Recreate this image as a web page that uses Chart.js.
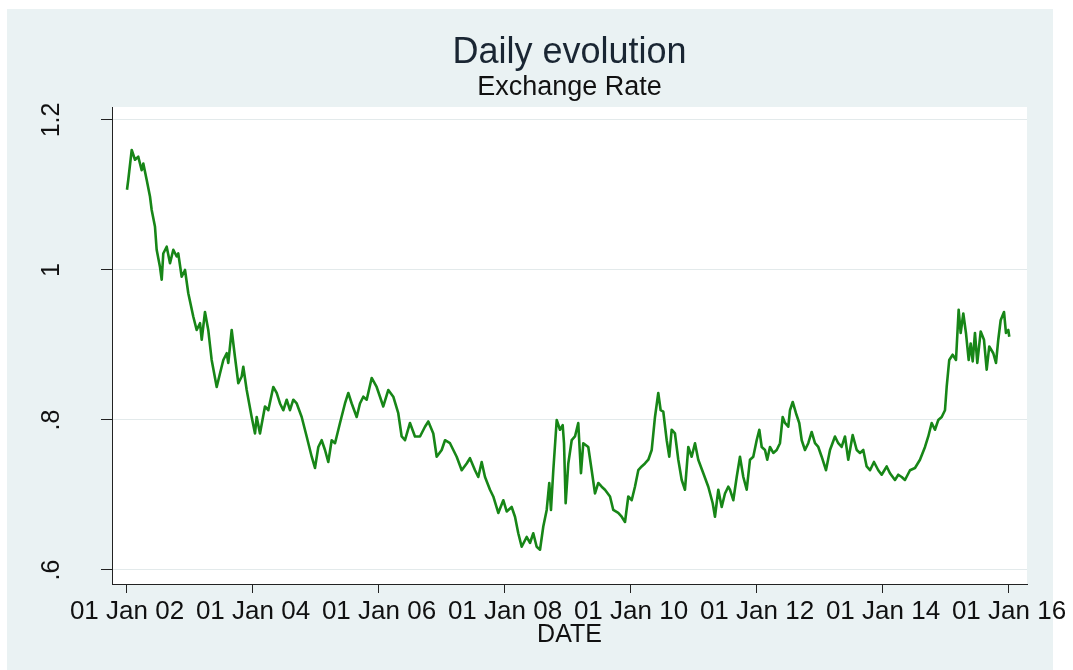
<!DOCTYPE html>
<html>
<head>
<meta charset="utf-8">
<title>Daily evolution</title>
<script src="https://cdn.jsdelivr.net/npm/chart.js@4.4.1/dist/chart.umd.min.js"></script>
<style>
  html, body { margin: 0; padding: 0; background: #ffffff; }
  canvas { display: block; }
</style>
</head>
<body>
<canvas id="myChart" width="1073" height="670"></canvas>
<script>
const obsTime = [
  2002.00, 2002.02, 2002.075, 2002.127, 2002.179, 2002.233, 2002.259, 2002.313, 2002.365, 2002.392,
  2002.444, 2002.471, 2002.524, 2002.551, 2002.576, 2002.630, 2002.683, 2002.735, 2002.789, 2002.814,
  2002.868, 2002.921, 2002.973, 2003.052, 2003.106, 2003.159, 2003.186, 2003.238, 2003.290, 2003.344,
  2003.424, 2003.476, 2003.529, 2003.583, 2003.608, 2003.662, 2003.714, 2003.767, 2003.821, 2003.846,
  2003.900, 2003.979, 2004.032, 2004.059, 2004.111, 2004.190, 2004.243, 2004.322, 2004.376, 2004.429,
  2004.481, 2004.535, 2004.587, 2004.640, 2004.694, 2004.773, 2004.852, 2004.932, 2004.984, 2005.037,
  2005.090, 2005.143, 2005.195, 2005.249, 2005.302, 2005.381, 2005.460, 2005.513, 2005.567, 2005.646,
  2005.698, 2005.751, 2005.805, 2005.884, 2005.963, 2006.016, 2006.068, 2006.148, 2006.227, 2006.306,
  2006.360, 2006.413, 2006.492, 2006.571, 2006.651, 2006.730, 2006.783, 2006.862, 2006.916, 2006.995,
  2007.048, 2007.127, 2007.233, 2007.313, 2007.392, 2007.444, 2007.524, 2007.576, 2007.630, 2007.683,
  2007.762, 2007.814, 2007.894, 2007.973, 2008.027, 2008.106, 2008.159, 2008.211, 2008.265, 2008.344,
  2008.397, 2008.449, 2008.503, 2008.556, 2008.608, 2008.662, 2008.703, 2008.730, 2008.767, 2008.821,
  2008.873, 2008.916, 2008.937, 2008.963, 2009.005, 2009.059, 2009.111, 2009.163, 2009.206, 2009.243,
  2009.322, 2009.376, 2009.429, 2009.481, 2009.535, 2009.587, 2009.667, 2009.719, 2009.798, 2009.852,
  2009.905, 2009.957, 2010.011, 2010.063, 2010.116, 2010.170, 2010.222, 2010.275, 2010.329, 2010.381,
  2010.433, 2010.471, 2010.513, 2010.567, 2010.608, 2010.646, 2010.698, 2010.751, 2010.805, 2010.857,
  2010.910, 2010.963, 2011.016, 2011.068, 2011.148, 2011.227, 2011.297, 2011.333, 2011.386, 2011.440,
  2011.492, 2011.544, 2011.571, 2011.624, 2011.678, 2011.730, 2011.783, 2011.837, 2011.889, 2011.941,
  2011.995, 2012.037, 2012.075, 2012.127, 2012.163, 2012.206, 2012.259, 2012.313, 2012.365, 2012.408,
  2012.444, 2012.497, 2012.524, 2012.567, 2012.619, 2012.671, 2012.710, 2012.762, 2012.814, 2012.868,
  2012.921, 2012.973, 2013.027, 2013.095, 2013.159, 2013.238, 2013.290, 2013.344, 2013.397, 2013.449,
  2013.519, 2013.583, 2013.635, 2013.687, 2013.741, 2013.794, 2013.857, 2013.925, 2013.979, 2014.059,
  2014.111, 2014.190, 2014.243, 2014.297, 2014.349, 2014.429, 2014.508, 2014.587, 2014.667, 2014.719,
  2014.773, 2014.825, 2014.878, 2014.932, 2014.984, 2015.011, 2015.052, 2015.106, 2015.159, 2015.201,
  2015.233, 2015.275, 2015.317, 2015.360, 2015.392, 2015.424, 2015.460, 2015.497, 2015.551, 2015.603,
  2015.646, 2015.687, 2015.751, 2015.794, 2015.830, 2015.868, 2015.921, 2015.952, 2015.989, 2016.005
];

// exchange rate at each observation
const rate = [
  1.107, 1.120, 1.160, 1.147, 1.151, 1.133, 1.142, 1.120, 1.098, 1.080,
  1.058, 1.027, 1.004, 0.987, 1.022, 1.031, 1.009, 1.027, 1.018, 1.022,
  0.991, 1.000, 0.969, 0.938, 0.920, 0.929, 0.907, 0.944, 0.920, 0.880,
  0.844, 0.862, 0.880, 0.889, 0.876, 0.920, 0.884, 0.849, 0.858, 0.871,
  0.840, 0.804, 0.782, 0.804, 0.782, 0.818, 0.813, 0.844, 0.836, 0.822,
  0.813, 0.827, 0.813, 0.827, 0.822, 0.804, 0.778, 0.751, 0.736, 0.764,
  0.773, 0.760, 0.744, 0.773, 0.769, 0.796, 0.822, 0.836, 0.822, 0.804,
  0.822, 0.831, 0.827, 0.856, 0.844, 0.831, 0.818, 0.840, 0.831, 0.809,
  0.778, 0.773, 0.796, 0.778, 0.778, 0.791, 0.798, 0.782, 0.751, 0.760,
  0.773, 0.769, 0.751, 0.733, 0.742, 0.749, 0.733, 0.724, 0.744, 0.724,
  0.707, 0.698, 0.676, 0.693, 0.678, 0.684, 0.671, 0.649, 0.631, 0.644,
  0.636, 0.649, 0.631, 0.627, 0.658, 0.680, 0.716, 0.680, 0.733, 0.800,
  0.787, 0.793, 0.769, 0.689, 0.742, 0.773, 0.778, 0.796, 0.729, 0.769,
  0.764, 0.733, 0.702, 0.716, 0.711, 0.707, 0.698, 0.680, 0.676, 0.671,
  0.664, 0.698, 0.693, 0.711, 0.733, 0.738, 0.742, 0.747, 0.760, 0.804,
  0.836, 0.813, 0.811, 0.773, 0.751, 0.787, 0.782, 0.747, 0.720, 0.707,
  0.764, 0.751, 0.769, 0.747, 0.729, 0.711, 0.689, 0.671, 0.707, 0.684,
  0.702, 0.711, 0.707, 0.693, 0.724, 0.751, 0.724, 0.707, 0.747, 0.751,
  0.773, 0.787, 0.764, 0.760, 0.747, 0.764, 0.756, 0.760, 0.769, 0.804,
  0.796, 0.791, 0.813, 0.824, 0.809, 0.796, 0.773, 0.760, 0.769, 0.784,
  0.769, 0.764, 0.751, 0.733, 0.760, 0.778, 0.769, 0.764, 0.778, 0.747,
  0.780, 0.760, 0.756, 0.760, 0.738, 0.733, 0.744, 0.733, 0.727, 0.738,
  0.729, 0.720, 0.727, 0.724, 0.720, 0.733, 0.736, 0.747, 0.764, 0.778,
  0.796, 0.787, 0.800, 0.804, 0.813, 0.844, 0.880, 0.887, 0.880, 0.947,
  0.916, 0.942, 0.916, 0.880, 0.902, 0.878, 0.916, 0.876, 0.918, 0.907,
  0.867, 0.898, 0.889, 0.876, 0.907, 0.933, 0.944, 0.916, 0.920, 0.911
];

// axis ticks
const xTickYears = [2002, 2004, 2006, 2008, 2010, 2012, 2014, 2016];
const xTickLabels = ["01 Jan 02", "01 Jan 04", "01 Jan 06", "01 Jan 08", "01 Jan 10", "01 Jan 12", "01 Jan 14", "01 Jan 16"];
const yTickValues = [0.6, 0.8, 1.0, 1.2];
const yTickLabels = [".6", ".8", "1", "1.2"];

const FONT = "'Liberation Sans', Arial, Helvetica, sans-serif";
const BG = "#eaf2f3";

// stata-like background: blue-grey frame, white plot region
const stataBackground = {
  id: "stataBackground",
  beforeDraw(chart) {
    const { ctx, chartArea: a, width, height } = chart;
    ctx.save();
    ctx.fillStyle = "#ffffff";
    ctx.fillRect(0, 0, width, height);
    ctx.fillStyle = BG;
    ctx.fillRect(7, 9, 1046, height - 9);
    ctx.fillStyle = "#ffffff";
    ctx.fillRect(a.left, a.top, a.right - a.left, a.bottom - a.top);
    ctx.restore();
  }
};

const points = obsTime.map((t, i) => ({ x: t, y: rate[i] }));

new Chart(document.getElementById("myChart"), {
  type: "line",
  data: {
    datasets: [{
      label: "Exchange Rate",
      data: points,
      borderColor: "#178617",
      borderWidth: 2.6,
      borderJoinStyle: "round",
      pointRadius: 0,
      tension: 0,
      fill: false
    }]
  },
  options: {
    responsive: false,
    animation: false,
    devicePixelRatio: 1,
    layout: { padding: { left: 0, right: 46, top: 0, bottom: 20 } },
    plugins: {
      legend: { display: false },
      tooltip: { enabled: false },
      title: {
        display: true,
        text: "Daily evolution",
        fullSize: false,
        color: "#1a2633",
        font: { family: FONT, size: 36, weight: "normal", lineHeight: 1 },
        padding: { top: 35, bottom: 0 }
      },
      subtitle: {
        display: true,
        text: "Exchange Rate",
        fullSize: false,
        color: "#111111",
        font: { family: FONT, size: 27, weight: "normal", lineHeight: 1 },
        padding: { top: 3, bottom: 6 }
      }
    },
    scales: {
      x: {
        type: "linear",
        min: 2001.762,
        max: 2016.286,
        afterBuildTicks: (scale) => { scale.ticks = xTickYears.map(v => ({ value: v })); },
        afterFit: (scale) => { scale.height = 66; },
        grid: { display: true, drawOnChartArea: false, drawTicks: true, tickLength: 9, tickColor: "#222", tickWidth: 1 },
        border: { display: true, color: "#222", width: 1 },
        ticks: {
          autoSkip: false,
          minRotation: 0,
          maxRotation: 0,
          padding: 3,
          color: "#111111",
          font: { family: FONT, size: 26 },
          callback: (v, i) => xTickLabels[i]
        },
        title: {
          display: true,
          text: "DATE",
          color: "#111111",
          font: { family: FONT, size: 25, lineHeight: 1.2 },
          padding: { top: 0, bottom: 0 }
        }
      },
      y: {
        type: "linear",
        min: 0.5813,
        max: 1.2173,
        afterBuildTicks: (scale) => { scale.ticks = yTickValues.map(v => ({ value: v })); },
        afterFit: (scale) => { scale.width = 112; },
        grid: { color: "#e3eaeb", lineWidth: 1, drawTicks: true, tickLength: 11, tickColor: "#222", tickWidth: 1 },
        border: { display: true, color: "#222", width: 1 },
        ticks: {
          minRotation: 90,
          maxRotation: 90,
          crossAlign: "center",
          padding: 32,
          color: "#111111",
          font: { family: FONT, size: 25 },
          callback: (v, i) => yTickLabels[i]
        }
      }
    }
  },
  plugins: [stataBackground]
});
</script>
</body>
</html>
